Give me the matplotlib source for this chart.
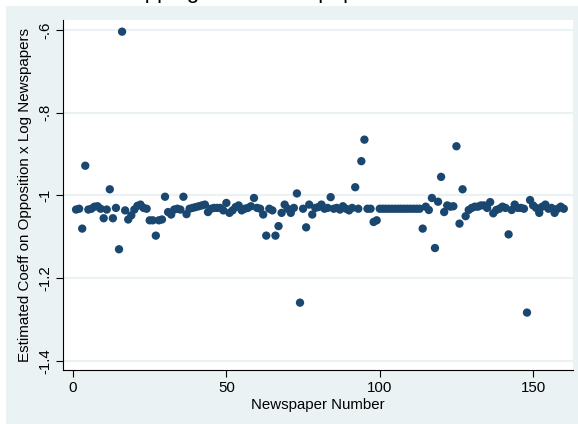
import matplotlib
matplotlib.use("Agg")
from matplotlib import pyplot as plt
from matplotlib.patches import Rectangle

plt.rcParams['font.family'] = ['Liberation Sans', 'DejaVu Sans']

# coefficient estimates, one per dropped newspaper (newspaper 1..160)
coef = [
    -1.034, -1.032, -1.080, -0.928, -1.034, -1.032, -1.027, -1.026, -1.032, -1.055,
    -1.034, -0.985, -1.055, -1.030, -1.130, -0.604, -1.036, -1.058, -1.048, -1.034,
    -1.025, -1.022, -1.030, -1.032, -1.060, -1.060, -1.097, -1.060, -1.058, -1.003,
    -1.040, -1.046, -1.034, -1.032, -1.034, -1.003, -1.045, -1.032, -1.030, -1.028,
    -1.026, -1.024, -1.022, -1.040, -1.032, -1.030, -1.030, -1.030, -1.036, -1.018,
    -1.042, -1.036, -1.028, -1.024, -1.036, -1.032, -1.030, -1.026, -1.006, -1.030,
    -1.032, -1.046, -1.097, -1.032, -1.036, -1.097, -1.074, -1.042, -1.022, -1.032,
    -1.042, -1.030, -0.995, -1.259, -1.032, -1.077, -1.022, -1.046, -1.030, -1.028,
    -1.022, -1.032, -1.030, -1.004, -1.032, -1.030, -1.034, -1.026, -1.032, -1.036,
    -1.030, -0.980, -1.032, -0.917, -0.865, -1.032, -1.032, -1.064, -1.060, -1.032,
    -1.032, -1.032, -1.032, -1.032, -1.032, -1.032, -1.032, -1.032, -1.032, -1.032,
    -1.032, -1.032, -1.032, -1.080, -1.027, -1.035, -1.006, -1.127, -1.015, -0.955,
    -1.040, -1.024, -1.027, -1.026, -0.881, -1.068, -0.985, -1.050, -1.035, -1.030,
    -1.027, -1.027, -1.024, -1.024, -1.030, -1.016, -1.043, -1.035, -1.032, -1.027,
    -1.030, -1.094, -1.035, -1.022, -1.030, -1.030, -1.032, -1.283, -1.011, -1.024,
    -1.030, -1.042, -1.027, -1.022, -1.032, -1.030, -1.042, -1.032, -1.027, -1.032,
]
paper = list(range(1, len(coef) + 1))

xticks = [0, 50, 100, 150]
yticks = [-0.6, -0.8, -1.0, -1.2, -1.4]
ylabels = ['-.6', '-.8', '-1', '-1.2', '-1.4']

navy = '#1a476f'
bg = '#eaf2f3'

fig = plt.figure(figsize=(5.78, 4.24), dpi=100)
fig.patch.set_facecolor('white')
# graph region (light blue-grey), white strip on top and left
fig.patches.append(Rectangle((6 / 578, 0), 1 - 6 / 578, 1 - 6 / 424,
                             transform=fig.transFigure, facecolor=bg,
                             edgecolor='none', zorder=-10))

# title, mostly cut off above the top edge
fig.text(109 / 578, 1 + 2 / 424, 'Dropping Each Newspaper in Turn',
         fontsize=16, ha='left', va='baseline', color='black')

ax = fig.add_axes([63 / 578, 1 - 370 / 424, 510 / 578, 350 / 424])
ax.set_facecolor('white')
ax.scatter(paper, coef, s=36, color=navy, edgecolors='none', zorder=3)

ax.set_xlim(-3.26, 163.0)
ax.set_ylim(-1.4218, -0.5758)
ax.set_xticks(xticks)
ax.set_yticks(yticks)
ax.set_yticklabels(ylabels, rotation=90, va='center')
ax.tick_params(axis='both', direction='out', length=5, width=0.8,
               labelsize=10.8, color='black', pad=3)
ax.grid(axis='y', color=bg, linewidth=1.5, zorder=1)
ax.set_axisbelow(True)
for side in ['top', 'right']:
    ax.spines[side].set_visible(False)
for side in ['left', 'bottom']:
    ax.spines[side].set_linewidth(0.8)
    ax.spines[side].set_color('black')

ax.set_xlabel('Newspaper Number', fontsize=10.8, labelpad=2)
ax.set_ylabel('Estimated Coeff on Opposition x Log Newspapers', fontsize=10.9, labelpad=4)

plt.savefig('out.png', dpi=100)
